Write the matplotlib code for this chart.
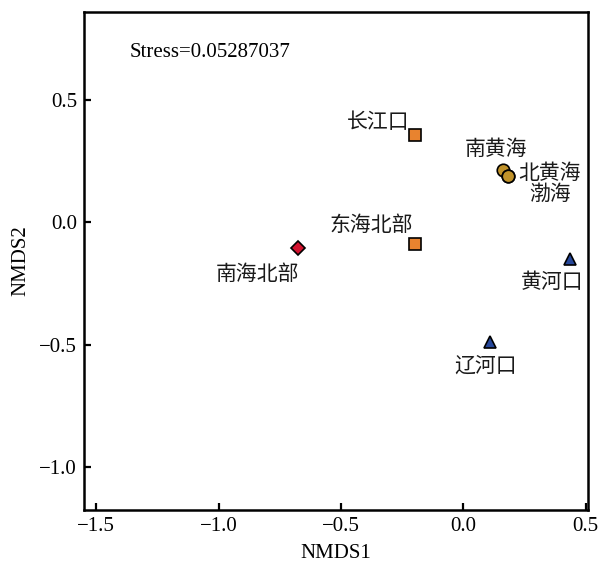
import matplotlib
matplotlib.use("Agg")
import matplotlib.pyplot as plt

plt.rcParams['font.family'] = ['Liberation Serif', 'Noto Sans CJK SC']
plt.rcParams['axes.unicode_minus'] = True

# NMDS 坐标
sites = ['长江口', '东海北部', '南海北部', '南黄海', '北黄海', '渤海', '黄河口', '辽河口']
nmds1 = [-0.199, -0.199, -0.675, 0.163, 0.183, 0.185, 0.435, 0.110]
nmds2 = [0.356, -0.090, -0.106, 0.215, 0.190, 0.188, -0.150, -0.488]
groups = ['sq', 'sq', 'dia', 'cir', 'cir', 'cir', 'tri', 'tri']
stress = 0.05287037

styles = {
    'sq': dict(marker='s', color='#E8832F'),
    'dia': dict(marker='D', color='#D2122E'),
    'cir': dict(marker='o', color='#C0922A'),
    'tri': dict(marker='^', color='#26479A'),
}
sizes = {'sq': 9, 'dia': 7.5, 'cir': 9, 'tri': 9}

# 标签偏移（像素）
offsets = [(-36, 13), (-43, 19), (-41, -26), (-7, 21), (42, 3), (42, -18), (-17, -23), (-5, -24)]

fig = plt.figure(figsize=(6, 5.66), dpi=100)
ax = fig.add_axes([0.14, 0.099, 0.84, 0.88])

for x, y, g in zip(nmds1, nmds2, groups):
    st = styles[g]
    ax.plot(x, y, linestyle='none', marker=st['marker'], markersize=sizes[g],
            markerfacecolor=st['color'], markeredgecolor='black', markeredgewidth=1.2)

for name, x, y, (dx, dy) in zip(sites, nmds1, nmds2, offsets):
    ax.annotate(name, (x, y), xytext=(dx, dy), textcoords='offset pixels',
                ha='center', va='center', fontsize=15,
                family=['Noto Sans CJK SC', 'DejaVu Sans'], color='#1a1a1a')

ax.text(0.09, 0.918, f'Stress={stress:.8f}', transform=ax.transAxes, fontsize=15, va='center')

ax.set_xlim(-1.55, 0.51)
ax.set_ylim(-1.176, 0.86)
ax.set_xticks([-1.5, -1.0, -0.5, 0.0, 0.5])
ax.set_yticks([-1.0, -0.5, 0.0, 0.5])
ax.set_xticklabels(['\u22121.5', '\u22121.0', '\u22120.5', '0.0', '0.5'])
ax.set_yticklabels(['\u22121.0', '\u22120.5', '0.0', '0.5'])
ax.tick_params(direction='in', length=5, width=1.6, labelsize=15, pad=5)
for sp in ax.spines.values():
    sp.set_linewidth(1.8)

ax.set_xlabel('NMDS1', fontsize=15, labelpad=6)
ax.set_ylabel('NMDS2', fontsize=15, labelpad=6)

fig.savefig('out.png', dpi=100)
